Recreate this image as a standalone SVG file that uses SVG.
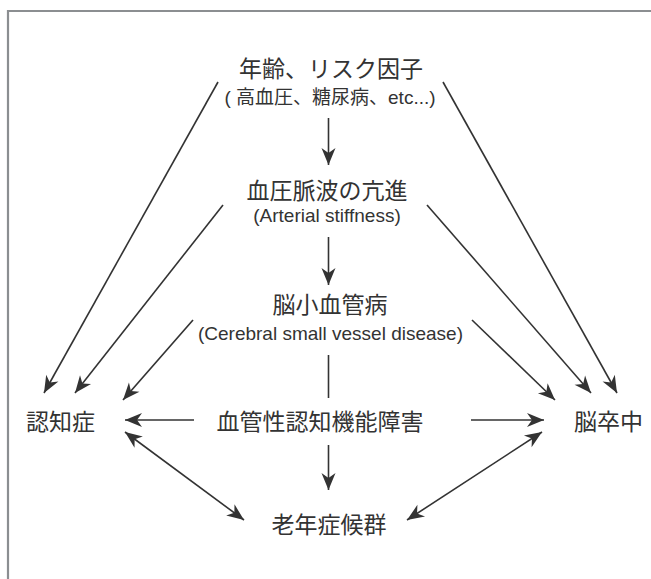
<svg xmlns="http://www.w3.org/2000/svg" width="651" height="579" viewBox="0 0 651 579">
<defs>
<style>
.t{font-family:"Liberation Sans","Noto Sans CJK JP",sans-serif;fill:#333;text-anchor:middle}
.big{font-size:23px}
.sm{font-size:19px}
.c{stroke:#333;stroke-width:1.6;fill:none}
.a{marker-end:url(#ah)}
.d{marker-start:url(#ah);marker-end:url(#ah)}
</style>
<marker id="ah" viewBox="-18 -8 19 16" refX="0" refY="0" markerWidth="19" markerHeight="16" markerUnits="userSpaceOnUse" orient="auto-start-reverse">
<path d="M0,0 L-17,-7 L-12,0 L-17,7 Z" fill="#333"/>
</marker>
</defs>
<rect width="651" height="579" fill="#fff"/>
<path d="M8,581 V11 H653" fill="none" stroke="#8b8e91" stroke-width="2.2"/>
<g id="connectors">
<line class="c a" x1="328.5" y1="118" x2="328.5" y2="165"/>
<line class="c a" x1="328.5" y1="237" x2="328.5" y2="285"/>
<line class="c" x1="328.5" y1="355" x2="328.5" y2="398"/>
<line class="c a" x1="328.5" y1="445" x2="328.5" y2="490"/>
<line class="c a" x1="218" y1="82" x2="44" y2="393"/>
<line class="c a" x1="223" y1="205" x2="75" y2="393"/>
<line class="c a" x1="193" y1="320" x2="123" y2="400"/>
<line class="c a" x1="443" y1="82" x2="617" y2="393"/>
<line class="c a" x1="427" y1="205" x2="591" y2="393"/>
<line class="c a" x1="472" y1="320" x2="555" y2="400"/>
<line class="c a" x1="194" y1="420" x2="125" y2="420"/>
<line class="c a" x1="471" y1="420" x2="544" y2="420"/>
<line class="c d" x1="125" y1="432" x2="244" y2="520"/>
<line class="c d" x1="542" y1="432" x2="407" y2="520"/>
</g>
<g id="age">
<text class="t big" x="331" y="77">年齢、リスク因子</text>
<text class="t sm" x="330" y="104">( 高血圧、糖尿病、etc...)</text>
</g>
<g id="stiffness">
<text class="t big" x="327" y="199">血圧脈波の亢進</text>
<text class="t sm" x="327" y="222">(Arterial stiffness)</text>
</g>
<g id="svd">
<text class="t big" x="330" y="313">脳小血管病</text>
<text class="t sm" x="330.5" y="340">(Cerebral small vessel disease)</text>
</g>
<g id="vci">
<text class="t big" x="320" y="430">血管性認知機能障害</text>
</g>
<g id="dementia">
<text class="t big" x="60.5" y="430">認知症</text>
</g>
<g id="stroke">
<text class="t big" x="608.5" y="430">脳卒中</text>
</g>
<g id="geriatric">
<text class="t big" x="329" y="533">老年症候群</text>
</g>
</svg>
